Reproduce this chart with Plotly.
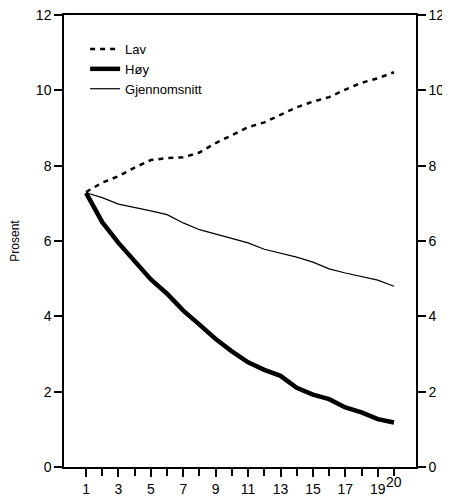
import plotly.graph_objects as go

# år 1-20, prosent
years = list(range(1, 21))

lav = [7.3, 7.55, 7.72, 7.95, 8.15, 8.2, 8.22, 8.35, 8.6, 8.8,
       9.02, 9.15, 9.34, 9.55, 9.7, 9.82, 10.02, 10.2, 10.32, 10.48]
hoy = [7.28, 6.5, 5.95, 5.45, 4.98, 4.6, 4.15, 3.78, 3.4, 3.07,
       2.78, 2.58, 2.42, 2.1, 1.92, 1.8, 1.58, 1.45, 1.27, 1.18]
snitt = [7.28, 7.15, 6.98, 6.9, 6.8, 6.7, 6.48, 6.3, 6.18, 6.08,
         5.95, 5.78, 5.68, 5.57, 5.44, 5.26, 5.15, 5.06, 4.96, 4.8]

x_tick_vals = [1, 3, 5, 7, 9, 11, 13, 15, 17, 19]
y_tick_vals = [0, 2, 4, 6, 8, 10, 12]

FONT = "Liberation Sans, Arial, sans-serif"

fig = go.Figure()
fig.add_trace(go.Scatter(x=years, y=lav, name="Lav", mode="lines",
                         line=dict(color="black", width=2.5, dash="5px,5px")))
fig.add_trace(go.Scatter(x=years, y=hoy, name="Høy", mode="lines",
                         line=dict(color="black", width=4.5)))
# snittet på høyre akse (samme skala) så den aksen blir tegnet
fig.add_trace(go.Scatter(x=years, y=snitt, name="Gjennomsnitt", mode="lines",
                         yaxis="y2", line=dict(color="black", width=1.2)))

axis_common = dict(showgrid=False, zeroline=False, showline=True, linecolor="black",
                   linewidth=1.5, ticks="outside", ticklen=8, tickcolor="black",
                   tickwidth=1.5, automargin=False, ticklabeloverflow="allow",
                   tickfont=dict(size=14, color="black"))

# siden har 8px marg rundt, så figuren er litt mindre enn vinduet
fig.update_layout(
    width=442, height=491,
    margin=dict(l=56, r=34, t=7, b=32),
    paper_bgcolor="white", plot_bgcolor="white",
    font=dict(family=FONT, size=13, color="black"),
    showlegend=True,
    legend=dict(x=0.06, y=0.958, xanchor="left", yanchor="top",
                bgcolor="rgba(0,0,0,0)", font=dict(size=13)),
    xaxis=dict(range=[-0.36, 21.36], tickvals=x_tick_vals, mirror=True,
               minor=dict(tickvals=years, ticks="outside", ticklen=7,
                          tickcolor="black", tickwidth=1.5),
               **axis_common),
    yaxis=dict(range=[0, 12], tickvals=y_tick_vals,
               title=dict(text="Prosent", font=dict(size=12), standoff=22),
               **axis_common),
    yaxis2=dict(range=[0, 12], tickvals=y_tick_vals, overlaying="y", side="right",
                anchor="x", **axis_common),
)

# "20" står litt lavere enn de andre tallene
fig.add_annotation(x=20, y=0, xref="x", yref="paper", text="20", showarrow=False,
                   yshift=-25, font=dict(size=14, color="black"))

fig.write_html("out.html")
